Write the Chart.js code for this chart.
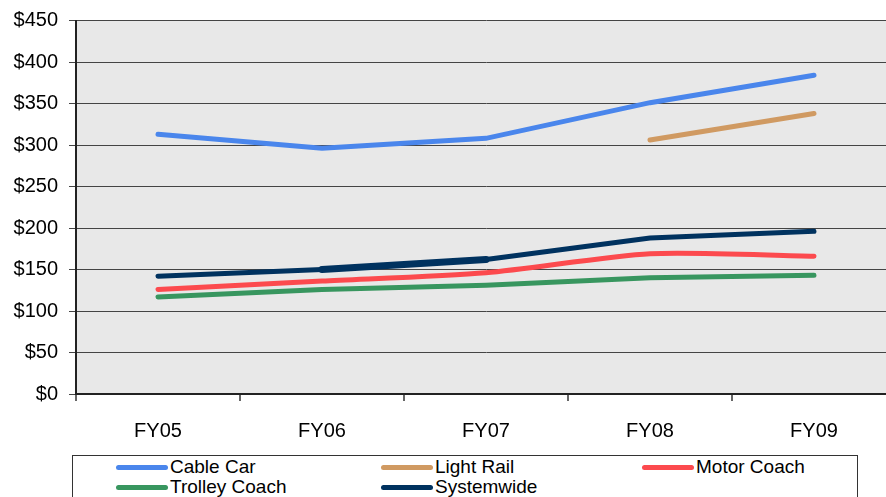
<!DOCTYPE html>
<html>
<head>
<meta charset="utf-8">
<script src="https://cdn.jsdelivr.net/npm/chart.js@4/dist/chart.umd.min.js"></script>
<style>
  html, body { margin: 0; padding: 0; background: #fff; overflow: hidden; }
  #wrap { position: relative; width: 886px; height: 497px; overflow: hidden; }
  #chartBox { position: absolute; left: 0; top: 0; width: 896px; height: 450px; }
  #legend {
    position: absolute; left: 72px; top: 455px; width: 786px; height: 60px;
    border: 1px solid #333; box-sizing: border-box;
    font-family: "Liberation Sans", Arial, sans-serif;
    font-size: 19px; color: #000;
  }
  .item { position: absolute; display: flex; align-items: center; height: 20px; }
  .swatch { width: 52px; height: 5px; border-radius: 3px; margin-right: 2px; }
</style>
</head>
<body>
<div id="wrap">
  <div id="chartBox"><canvas id="myChart"></canvas></div>
  <div id="legend"></div>
</div>
<script>
"use strict";

// categories and series (cost per hour, dollars)
const years = ["FY05", "FY06", "FY07", "FY08", "FY09"];
const cableCar = [313, 296, 308, 351, 384];
const lightRail = [null, null, null, 306, 338];
const motorCoach = [126, 136, 146, 169, 166];
const trolleyCoach = [117, 126, 131, 140, 143];
const systemwide = [142, 150, 162, 188, 196];

const yTicks = [0, 50, 100, 150, 200, 250, 300, 350, 400, 450];

const seriesNames = ["Cable Car", "Light Rail", "Motor Coach", "Trolley Coach", "Systemwide"];
const seriesColors = ["#4a86ec", "#d09a62", "#fc4a4e", "#38965f", "#00325f"];
const seriesData = [cableCar, lightRail, motorCoach, trolleyCoach, systemwide];

// grey plot background
const plotBg = {
  id: "plotBg",
  beforeDraw(chart) {
    const { ctx, chartArea: a } = chart;
    ctx.save();
    ctx.fillStyle = "#e8e8e8";
    ctx.fillRect(a.left, a.top, a.right - a.left, a.bottom - a.top);
    ctx.restore();
  }
};

const datasets = seriesNames.map((name, i) => ({
  label: name,
  data: seriesData[i],
  borderColor: seriesColors[i],
  backgroundColor: seriesColors[i],
  borderWidth: 5,
  borderCapStyle: "round",
  pointRadius: 0,
  tension: name === "Motor Coach" ? 0.25 : 0,
  spanGaps: false,
  segment: name === "Systemwide"
    ? { borderWidth: (c) => (c.p0DataIndex === 1 ? 7 : 5) }
    : undefined
}));

const ctx = document.getElementById("myChart").getContext("2d");
const chart = new Chart(ctx, {
  type: "line",
  data: { labels: years, datasets: datasets },
  plugins: [plotBg],
  options: {
    responsive: true,
    maintainAspectRatio: false,
    animation: false,
    layout: { padding: { top: 0, right: 0, bottom: 0, left: 0 } },
    plugins: { legend: { display: false }, tooltip: { enabled: false } },
    scales: {
      x: {
        offset: true,
        grid: { offset: true, drawOnChartArea: false, drawTicks: true, tickLength: 7, color: "#666", lineWidth: 2 },
        border: { color: "#222", width: 2 },
        ticks: { color: "#000", padding: 18, font: { family: "Liberation Sans", size: 20 } },
        afterFit: (s) => { s.height = 56; }
      },
      y: {
        min: 0,
        max: 450,
        afterBuildTicks: (s) => { s.ticks = yTicks.map((v) => ({ value: v })); },
        grid: { color: "#444", lineWidth: 1, tickLength: 7, drawTicks: true },
        border: { color: "#222", width: 2 },
        ticks: {
          color: "#000", padding: 11,
          font: { family: "Liberation Sans", size: 20, lineHeight: 0.95 },
          callback: (v) => "$" + v
        },
        afterFit: (s) => { s.width = 76; }
      }
    }
  }
});

// legend in three columns, built from the chart's datasets
const legend = document.getElementById("legend");
const colX = [43, 308, 569];
const rowY = [1, 21];
chart.data.datasets.forEach((ds, i) => {
  const item = document.createElement("div");
  item.className = "item";
  item.style.left = colX[i % 3] + "px";
  item.style.top = rowY[Math.floor(i / 3)] + "px";
  item.innerHTML = '<span class="swatch" style="background:' + ds.borderColor + '"></span><span>' + ds.label + "</span>";
  legend.appendChild(item);
});
</script>
</body>
</html>
